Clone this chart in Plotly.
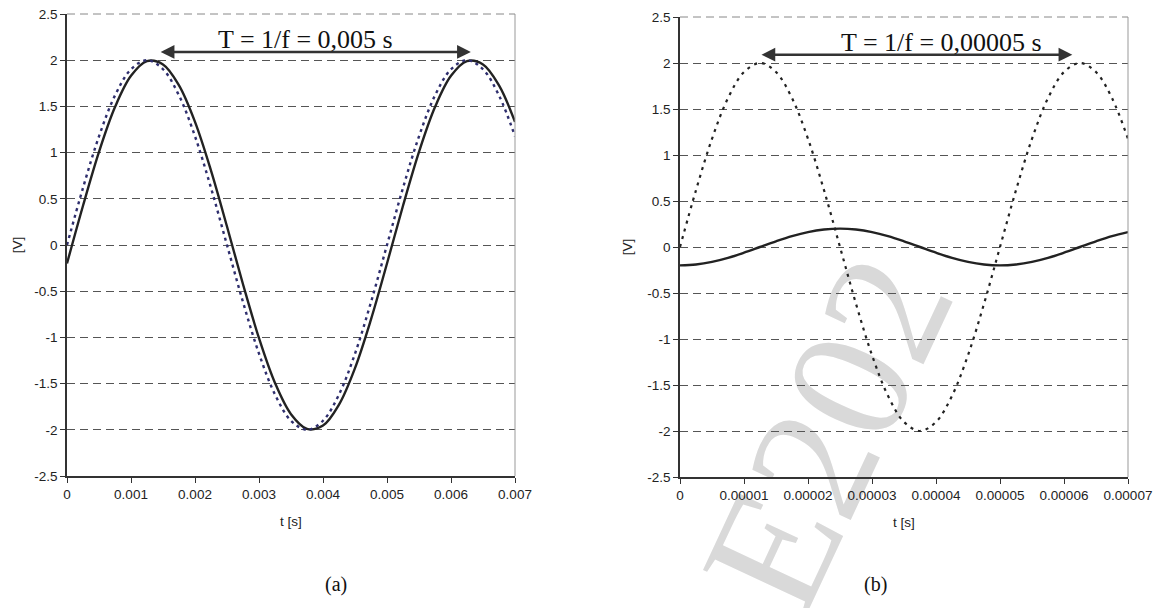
import plotly.graph_objects as go

# ---------------- data ----------------
# panel (a): f = 200 Hz, sampled every 0.00025 s
t_a = [0, 0.00025, 0.0005, 0.00075, 0.001, 0.00125, 0.0015, 0.00175, 0.002, 0.00225,
       0.0025, 0.00275, 0.003, 0.00325, 0.0035, 0.00375, 0.004, 0.00425, 0.0045, 0.00475,
       0.005, 0.00525, 0.0055, 0.00575, 0.006, 0.00625, 0.0065, 0.00675, 0.007]
v_in_a = [0.0, 0.618, 1.176, 1.618, 1.902, 2.0, 1.902, 1.618, 1.176, 0.618,
          0.0, -0.618, -1.176, -1.618, -1.902, -2.0, -1.902, -1.618, -1.176, -0.618,
          0.0, 0.618, 1.176, 1.618, 1.902, 2.0, 1.902, 1.618, 1.176]
v_out_a = [-0.200, 0.425, 1.008, 1.493, 1.831, 1.990, 1.954, 1.727, 1.332, 0.805,
           0.200, -0.425, -1.008, -1.493, -1.831, -1.990, -1.954, -1.727, -1.332, -0.805,
           -0.200, 0.425, 1.008, 1.493, 1.831, 1.990, 1.954, 1.727, 1.332]

# panel (b): f = 20 kHz, sampled every 0.0000025 s
t_b = [0, 0.0000025, 0.000005, 0.0000075, 0.00001, 0.0000125, 0.000015, 0.0000175,
       0.00002, 0.0000225, 0.000025, 0.0000275, 0.00003, 0.0000325, 0.000035, 0.0000375,
       0.00004, 0.0000425, 0.000045, 0.0000475, 0.00005, 0.0000525, 0.000055, 0.0000575,
       0.00006, 0.0000625, 0.000065, 0.0000675, 0.00007]
v_in_b = [0.0, 0.618, 1.176, 1.618, 1.902, 2.0, 1.902, 1.618, 1.176, 0.618,
          0.0, -0.618, -1.176, -1.618, -1.902, -2.0, -1.902, -1.618, -1.176, -0.618,
          0.0, 0.618, 1.176, 1.618, 1.902, 2.0, 1.902, 1.618, 1.176]
v_out_b = [-0.200, -0.190, -0.162, -0.118, -0.062, 0.0, 0.062, 0.118, 0.162, 0.190,
           0.200, 0.190, 0.162, 0.118, 0.062, 0.0, -0.062, -0.118, -0.162, -0.190,
           -0.200, -0.190, -0.162, -0.118, -0.062, 0.0, 0.062, 0.118, 0.162]

# tick labels
y_ticks = [2.5, 2, 1.5, 1, 0.5, 0, -0.5, -1, -1.5, -2, -2.5]
y_tick_text = ["2.5", "2", "1.5", "1", "0.5", "0", "-0.5", "-1", "-1.5", "-2", "-2.5"]
x_ticks_a = [0, 0.001, 0.002, 0.003, 0.004, 0.005, 0.006, 0.007]
x_tick_text_a = ["0", "0.001", "0.002", "0.003", "0.004", "0.005", "0.006", "0.007"]
x_ticks_b = [0, 0.00001, 0.00002, 0.00003, 0.00004, 0.00005, 0.00006, 0.00007]
x_tick_text_b = ["0", "0.00001", "0.00002", "0.00003", "0.00004", "0.00005", "0.00006", "0.00007"]

# period arrows (start, end, height), label centres and labels
arrow_a = (0.00144, 0.00631, 2.09)
arrow_b = (0.0000125, 0.0000613, 2.09)
label_x_a = 0.00372
label_x_b = 0.0000408
label_a = "T = 1/f = 0,005 s"
label_b = "T = 1/f = 0,00005 s"

# ---------------- figure ----------------
W, H = 1159, 608
fig = go.Figure()

fig.add_trace(go.Scatter(x=t_a, y=v_out_a, mode="lines", line=dict(color="#222222", width=2.4, shape="spline"),
                         xaxis="x", yaxis="y", showlegend=False))
fig.add_trace(go.Scatter(x=t_a, y=v_in_a, mode="lines",
                         line=dict(color="#2e2e6e", width=2.4, dash="3px,4px", shape="spline"),
                         xaxis="x", yaxis="y", showlegend=False))
fig.add_trace(go.Scatter(x=t_b, y=v_out_b, mode="lines", line=dict(color="#222222", width=2.4, shape="spline"),
                         xaxis="x2", yaxis="y2", showlegend=False))
fig.add_trace(go.Scatter(x=t_b, y=v_in_b, mode="lines",
                         line=dict(color="#222222", width=2.2, dash="3px,5px", shape="spline"),
                         xaxis="x2", yaxis="y2", showlegend=False))

tick_font = dict(family="Liberation Sans, Arial", size=13.5, color="#222222")
grid_common = dict(showgrid=True, gridcolor="#555555", gridwidth=1, griddash="8px,5px")

def xaxis(dom, rng, vals, txt, anchor):
    return dict(domain=dom, range=rng, anchor=anchor, tickmode="array", tickvals=vals, ticktext=txt,
                showgrid=False, zeroline=False, showline=True, linecolor="#333333", linewidth=1.5,
                ticks="outside", ticklen=5, tickcolor="#333333", tickwidth=1.2, tickfont=tick_font,
                automargin=False, title=dict(text="t [s]", font=tick_font, standoff=16))

def yaxis(dom, anchor, standoff):
    return dict(domain=dom, range=[-2.5, 2.5], anchor=anchor, tickmode="array", tickvals=y_ticks,
                ticktext=y_tick_text, zeroline=False, showline=True, linecolor="#333333", linewidth=1.5,
                ticks="outside", ticklen=5, tickcolor="#333333", tickwidth=1.2, tickfont=tick_font,
                automargin=False, title=dict(text="[V]", font=tick_font, standoff=standoff), **grid_common)

def px_x(p):
    return p / W

def px_y(p):
    return 1 - p / H

fig.update_layout(
    width=W, height=H, autosize=False,
    margin=dict(l=0, r=0, t=0, b=0, pad=0),
    paper_bgcolor="white", plot_bgcolor="rgba(0,0,0,0)",
    xaxis=xaxis([px_x(67), px_x(515)], [0, 0.007], x_ticks_a, x_tick_text_a, "y"),
    yaxis=yaxis([px_y(476), px_y(14)], "x", 9),
    xaxis2=xaxis([px_x(680), px_x(1128)], [0, 0.00007], x_ticks_b, x_tick_text_b, "y2"),
    yaxis2=yaxis([px_y(477), px_y(17)], "x2", 12),
)

# frame lines of each plot: solid right edge, dashed top edge
for xr, yr in (("x", "y"), ("x2", "y2")):
    fig.add_shape(type="line", xref=f"{xr} domain", yref=f"{yr} domain", x0=1, x1=1, y0=0, y1=1,
                  line=dict(color="#999999", width=1))
    fig.add_shape(type="line", xref=f"{xr} domain", yref=f"{yr} domain", x0=0, x1=1, y0=1, y1=1,
                  line=dict(color="#888888", width=1, dash="8px,5px"))

# watermark (behind everything)
wm_x, wm_y = 810, 425
fig.add_shape(type="rect", xref="paper", yref="paper",
              x0=px_x(wm_x - 10), x1=px_x(wm_x + 10), y0=px_y(wm_y + 10), y1=px_y(wm_y - 10),
              line=dict(width=0), fillcolor="rgba(0,0,0,0)", layer="below",
              label=dict(text="E202", textangle=-65, textposition="middle center",
                         font=dict(family="Liberation Serif, Times New Roman", size=172, color="#d9d9d9")))

serif = "Liberation Serif, Times New Roman"
for (x0, x1, yv), lx, xr, yr, txt in ((arrow_a, label_x_a, "x", "y", label_a),
                                       (arrow_b, label_x_b, "x2", "y2", label_b)):
    fig.add_annotation(x=x1, y=yv, ax=x0, ay=yv, xref=xr, yref=yr, axref=xr, ayref=yr, text="",
                       showarrow=True, arrowhead=2, startarrowhead=2, arrowside="end+start",
                       arrowsize=1.1, startarrowsize=1.1, arrowwidth=2.5, arrowcolor="#333333")
    fig.add_annotation(x=lx, y=yv + 0.13, xref=xr, yref=yr, text=txt,
                       showarrow=False, xanchor="center", yanchor="middle",
                       font=dict(family=serif, size=26, color="#111111"))

fig.add_annotation(x=px_x(323), y=px_y(598), xref="paper", yref="paper", text="(a)", showarrow=False,
                   font=dict(family=serif, size=20, color="#111111"))
fig.add_annotation(x=px_x(889), y=px_y(598), xref="paper", yref="paper", text="(b)", showarrow=False,
                   font=dict(family=serif, size=20, color="#111111"))

# the page is photographed from its top-left corner: drop the browser's default body margin
fig.write_html("out.html", config={"displayModeBar": False},
               post_script="document.body.style.margin='0';")
